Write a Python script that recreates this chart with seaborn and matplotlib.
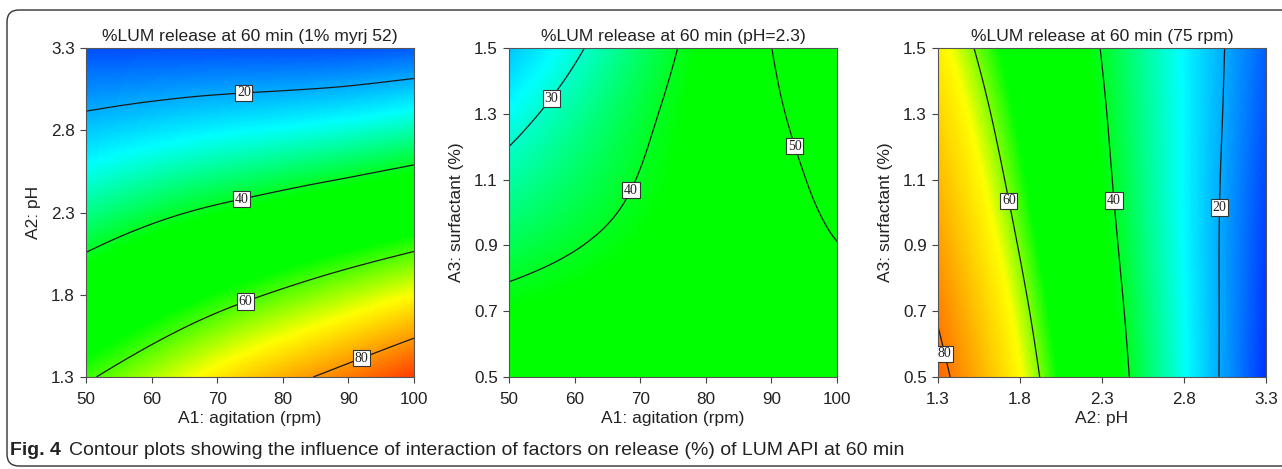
import numpy as np
import matplotlib
matplotlib.use("Agg")
import matplotlib.pyplot as plt
import matplotlib.tri as mtri
from matplotlib.colors import LinearSegmentedColormap, Normalize
from matplotlib.patches import FancyBboxPatch
import seaborn as sns

# ---------------- data ----------------
agitation = [50, 62.5, 75, 87.5, 100]          # A1 (rpm)
ph = [1.3, 1.8, 2.3, 2.8, 3.3]                 # A2
surfactant = [0.5, 0.75, 1.0, 1.25, 1.5]       # A3 (%)

# %LUM release at 60 min, rows = pH (1.3 -> 3.3), cols = agitation (1% myrj 52)
release_ph_agit = [
    [59.0, 67.0, 75.0, 81.5, 89.0],
    [46.5, 53.0, 59.0, 64.5, 70.0],
    [34.0, 39.0, 43.0, 47.0, 51.0],
    [22.5, 25.0, 27.0, 29.0, 32.0],
    [12.0, 12.0, 12.0, 12.0, 13.0],
]
# rows = surfactant (0.5 -> 1.5), cols = agitation (pH = 2.3)
release_surf_agit = [
    [47.0, 46.5, 46.0, 45.5, 45.0],
    [41.0, 42.8, 44.5, 46.3, 48.0],
    [34.7, 38.7, 42.7, 46.6, 51.0],
    [28.8, 35.1, 41.5, 47.4, 53.6],
    [22.0, 30.7, 39.5, 48.2, 57.0],
]
# rows = surfactant (0.5 -> 1.5), cols = pH (75 rpm)
release_surf_ph = [
    [82.7, 64.4, 46.1, 27.8, 9.5],
    [78.3, 61.4, 44.3, 27.3, 10.2],
    [74.0, 58.3, 42.5, 26.8, 11.0],
    [69.9, 55.5, 41.1, 26.7, 12.2],
    [65.7, 52.7, 39.7, 26.5, 13.4],
]

titles = ["%LUM release at 60 min (1% myrj 52)",
          "%LUM release at 60 min (pH=2.3)",
          "%LUM release at 60 min (75 rpm)"]
xlabels = ["A1: agitation (rpm)", "A1: agitation (rpm)", "A2: pH"]
ylabels = ["A2: pH", "A3: surfactant (%)", "A3: surfactant (%)"]
levels_list = [[20, 40, 60, 80], [30, 40, 50], [20, 40, 60, 80]]
label_pos_list = [
    [(74, 3.07), (73.5, 2.42), (74, 1.79), (91.5, 1.47)],
    [(56.2, 1.35), (68.1, 1.073), (93.3, 1.2)],
    [(1.35, 0.572), (1.748, 1.037), (2.384, 1.037), (3.023, 1.015)],
]
xticks_list = [[50, 60, 70, 80, 90, 100], [50, 60, 70, 80, 90, 100], [1.3, 1.8, 2.3, 2.8, 3.3]]
yticks_list = [[1.3, 1.8, 2.3, 2.8, 3.3], [0.5, 0.7, 0.9, 1.1, 1.3, 1.5], [0.5, 0.7, 0.9, 1.1, 1.3, 1.5]]
caption_bold = "Fig. 4"
caption_text = "Contour plots showing the influence of interaction of factors on release (%) of LUM API at 60 min"

# ---------------- style ----------------
sns.set_theme(style="ticks")
plt.rcParams['font.family'] = ['Liberation Sans', 'DejaVu Sans']

vmin, vmax = 5, 95
yellow_at = [70, 67, 64]   # colour-scale stop for yellow in each panel


def make_cmap(yel):
    nodes = [(5, (0, 0, 1)), (27, (0, 1, 1)), (42, (0, 1, 0)), (56, (0, 1, 0)),
             (yel, (1, 1, 0)), (95, (1, 0, 0))]
    return LinearSegmentedColormap.from_list(
        "de", [((v - vmin) / (vmax - vmin), c) for v, c in nodes])


norm = Normalize(vmin=vmin, vmax=vmax)

W, H = 1282, 469
fig = plt.figure(figsize=(W / 100, H / 100), dpi=100)

lefts = [86, 509, 938]
ax_w = 328
top_px, bot_px = 48, 377

panels = [
    (agitation, ph, release_ph_agit),
    (agitation, surfactant, release_surf_agit),
    (ph, surfactant, release_surf_ph),
]

for i, (xs, ys, zg) in enumerate(panels):
    ax = fig.add_axes([lefts[i] / W, 1 - bot_px / H, ax_w / W, (bot_px - top_px) / H])
    xs = np.asarray(xs, float)
    ys = np.asarray(ys, float)
    z = np.asarray(zg, float).ravel()
    X, Y = np.meshgrid(xs, ys)
    xn = ((X - xs[0]) / (xs[-1] - xs[0])).ravel()
    yn = ((Y - ys[0]) / (ys[-1] - ys[0])).ravel()
    tri_n = mtri.Triangulation(xn, yn)
    interp = mtri.CubicTriInterpolator(tri_n, z, kind='min_E')
    refiner = mtri.UniformTriRefiner(tri_n)
    tri_r, z_r = refiner.refine_field(z, triinterpolator=interp, subdiv=5)
    xr = xs[0] + tri_r.x * (xs[-1] - xs[0])
    yr = ys[0] + tri_r.y * (ys[-1] - ys[0])
    tri_d = mtri.Triangulation(xr, yr, tri_r.triangles)

    ax.tripcolor(tri_d, z_r, shading='gouraud', cmap=make_cmap(yellow_at[i]),
                 norm=norm, rasterized=True)
    cs = ax.tricontour(tri_d, z_r, levels=levels_list[i], colors='#1a1a1a', linewidths=0.9)
    ax.clabel(cs, levels_list[i], inline=False, manual=label_pos_list[i], fmt='%d', fontsize=10)
    for t in cs.labelTexts:
        t.set_rotation(0)
        t.set_family(['Liberation Serif', 'DejaVu Serif'])
        t.set_color('#222222')
        t.set_bbox(dict(boxstyle='square,pad=0.12', fc='white', ec='#333333', lw=0.8))

    ax.set_xlim(xs[0], xs[-1])
    ax.set_ylim(ys[0], ys[-1])
    ax.set_xticks(xticks_list[i])
    ax.set_xticklabels([f"{v:g}" for v in xticks_list[i]])
    ax.set_yticks(yticks_list[i])
    ax.set_yticklabels([f"{v:.1f}" for v in yticks_list[i]])
    ax.tick_params(direction='out', length=4.5, width=0.8, colors='#444444',
                   labelcolor='#222222', labelsize=12.3)
    ax.tick_params(axis='x', pad=6.5)
    ax.tick_params(axis='y', pad=3.5)
    for sp in ax.spines.values():
        sp.set_visible(True)
        sp.set_color('#555555')
        sp.set_linewidth(0.8)
    ax.set_title(titles[i], fontsize=12.6, color='#222222', pad=5)
    ax.set_xlabel(xlabels[i], fontsize=12.5, color='#222222', labelpad=3)
    ax.set_ylabel(ylabels[i], fontsize=12.5, color='#222222', labelpad=7)

# caption
t1 = fig.text(10 / W, 1 - 450 / H, caption_bold, fontsize=14, fontweight='bold',
              color='#222222', va='center', ha='left')
fig.canvas.draw()
bb = t1.get_window_extent()
fig.text((bb.x1 + 8) / W, 1 - 450 / H, caption_text, fontsize=14,
         color='#222222', va='center', ha='left')

# rounded border around the figure (right edge runs off the picture)
border = FancyBboxPatch((0.07, 0.03), 20.0, 4.56,
                        boxstyle="round,pad=0,rounding_size=0.12",
                        transform=fig.dpi_scale_trans, fill=False,
                        ec='#333333', lw=1.0, clip_on=False)
fig.patches.append(border)

fig.savefig("out.png", dpi=100)
